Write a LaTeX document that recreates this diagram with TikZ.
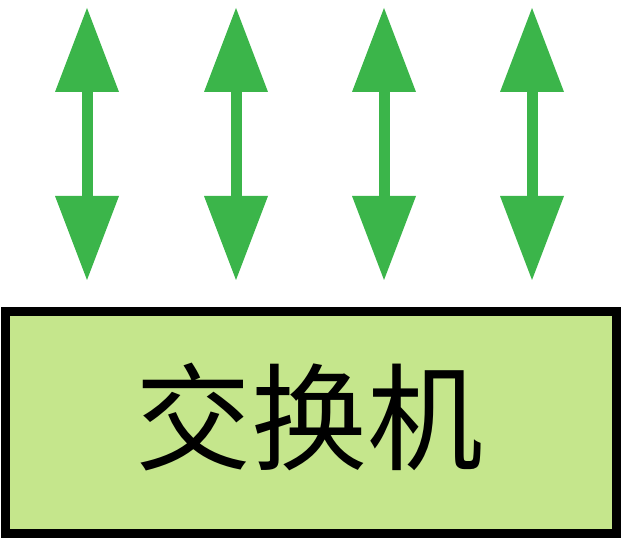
\documentclass[tikz,border=0pt]{standalone}
\usepackage{fontspec}
\newfontfamily\cjk{Noto Sans CJK SC}
\usetikzlibrary{arrows.meta}
\definecolor{linkgreen}{RGB}{59,181,74}
\definecolor{boxgreen}{RGB}{197,230,140}
\tikzset{
  link/.style={draw=linkgreen, line width=.11cm,
    {Triangle[length=.84cm, width=.64cm, line width=0pt, fill=linkgreen]}-{Triangle[length=.84cm, width=.64cm, line width=0pt, fill=linkgreen]}},
  switchbox/.style={draw=black, fill=boxgreen, line width=.09cm,
    minimum width=6.11cm, minimum height=2.215cm, inner sep=0pt},
  switchtext/.style={inner sep=0pt, font=\cjk\fontsize{33}{33}\selectfont}
}
\begin{document}
\begin{tikzpicture}
      \useasboundingbox (0, 0) rectangle (6.22, -5.38);

      \node[switchbox](sw) at(3.11, -4.2275){};
      \node[switchtext](swtext) at(3.095, -4.175){交换机};

      \foreach \x [count=\i] in {.87, 2.36, 3.84, 5.32}{
        \coordinate(top\i) at(\x, -.08);
        \coordinate(bot\i) at(\x, -2.80);
        \draw[link](top\i) to (bot\i);
      }

\end{tikzpicture}
\end{document}
